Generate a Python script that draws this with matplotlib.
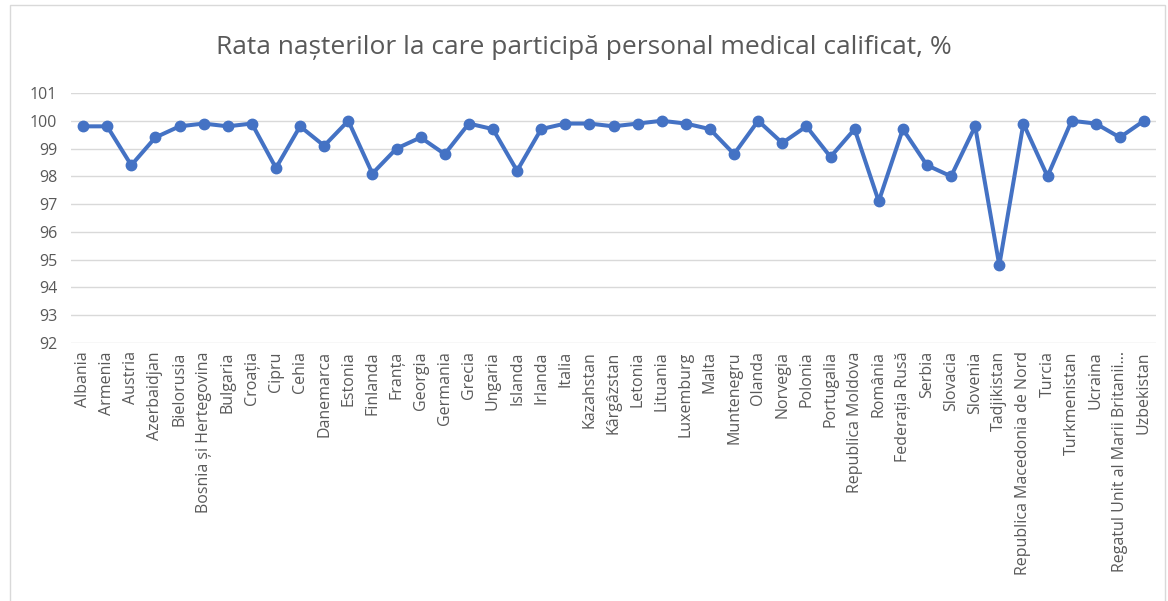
import matplotlib
matplotlib.use("Agg")
import matplotlib.pyplot as plt
from matplotlib.patches import Rectangle

countries = ["Albania", "Armenia", "Austria", "Azerbaidjan", "Bielorusia",
             "Bosnia și Hertegovina", "Bulgaria", "Croația", "Cipru", "Cehia",
             "Danemarca", "Estonia", "Finlanda", "Franța", "Georgia", "Germania",
             "Grecia", "Ungaria", "Islanda", "Irlanda", "Italia", "Kazahstan",
             "Kârgâzstan", "Letonia", "Lituania", "Luxemburg", "Malta",
             "Muntenegru", "Olanda", "Norvegia", "Polonia", "Portugalia",
             "Republica Moldova", "România", "Federația Rusă", "Serbia",
             "Slovacia", "Slovenia", "Tadjikistan", "Republica Macedonia de Nord",
             "Turcia", "Turkmenistan", "Ucraina", "Regatul Unit al Marii Britanii...",
             "Uzbekistan"]
values = [99.8, 99.8, 98.4, 99.4, 99.8,
          99.9, 99.8, 99.9, 98.3, 99.8,
          99.1, 100.0, 98.1, 99.0, 99.4, 98.8,
          99.9, 99.7, 98.2, 99.7, 99.9, 99.9,
          99.8, 99.9, 100.0, 99.9, 99.7,
          98.8, 100.0, 99.2, 99.8, 98.7,
          99.7, 97.1, 99.7, 98.4,
          98.0, 99.8, 94.8, 99.9,
          98.0, 100.0, 99.9, 99.4,
          100.0]
yticks = list(range(92, 102))
title = "Rata nașterilor la care participă personal medical calificat, %"

plt.rcParams['font.family'] = ['Open Sans', 'DejaVu Sans']
fig = plt.figure(figsize=(11.68, 6.01), dpi=100)
ax = fig.add_axes([71/1168, (601-343)/601, (1156-71)/1168, (343-93)/601])

x = list(range(len(countries)))
ax.plot(x, values, color="#4472C4", linewidth=2.9, marker="o", markersize=7.5,
        solid_capstyle="round", solid_joinstyle="round", zorder=3)
ax.set_ylim(92, 101)
ax.set_xlim(-0.5, len(countries) - 0.5)
ax.set_yticks(yticks)
ax.set_yticklabels([str(t) for t in yticks], fontsize=11.5, color="#595959")
ax.set_xticks(x)
ax.set_xticklabels(countries, rotation=90, fontsize=11.5, color="#595959")
ax.tick_params(axis="y", length=0, pad=10)
ax.tick_params(axis="x", length=0, pad=6)
ax.grid(axis="y", color="#D9D9D9", linewidth=1)
ax.set_axisbelow(True)
for s in ax.spines.values():
    s.set_visible(False)

fig.text(0.5, (601-48)/601, title, ha="center", va="center",
         fontsize=19, color="#595959")
fig.patches.append(Rectangle((10/1168, -0.01), (1165-10)/1168, (596)/601 + 0.01,
                             transform=fig.transFigure, fill=False,
                             edgecolor="#D9D9D9", linewidth=1))
fig.savefig("out.png", dpi=100)
